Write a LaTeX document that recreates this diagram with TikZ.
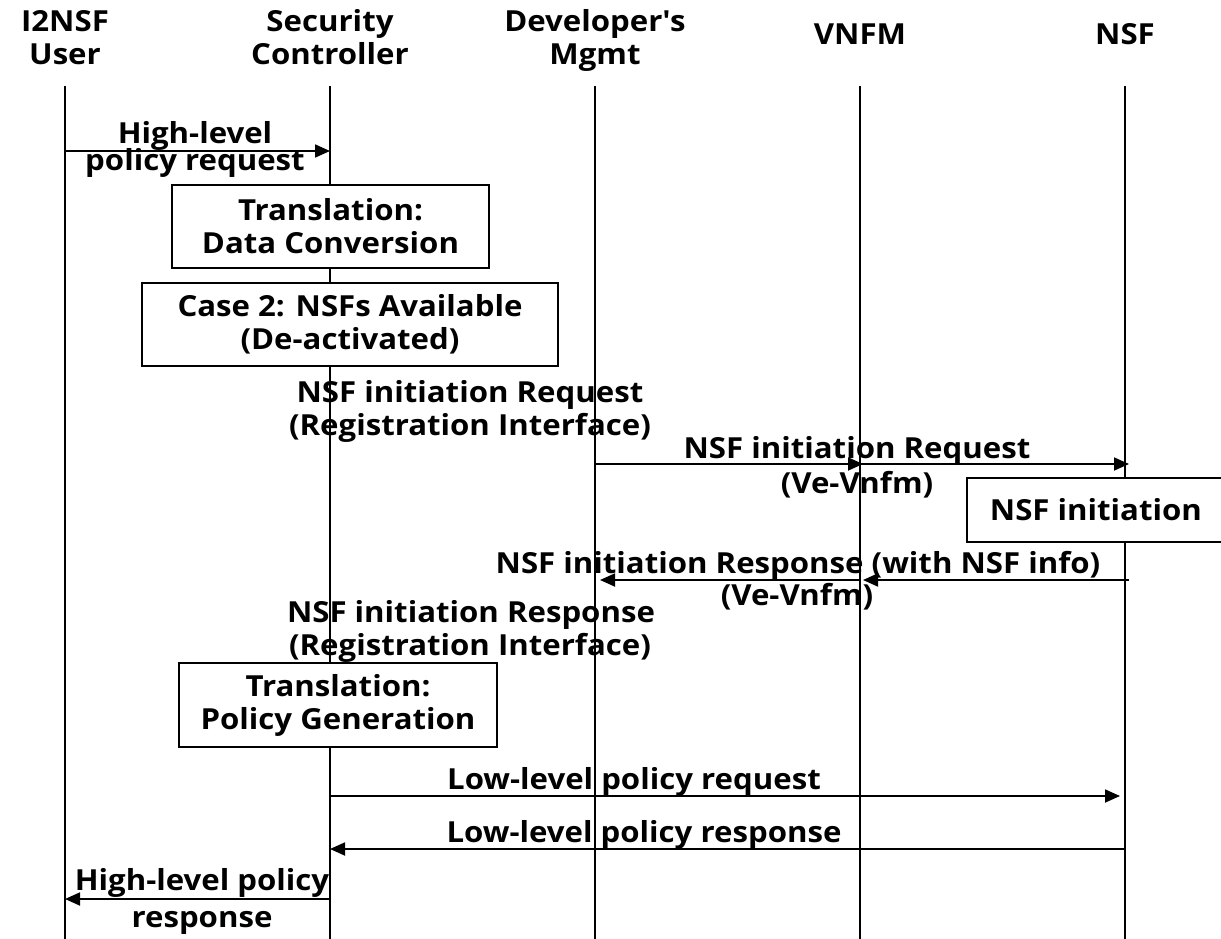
\documentclass[tikz,border=0pt]{standalone}
\usepackage{fontspec}
\setmainfont{Open Sans}[FakeStretch=1.075]
\usetikzlibrary{arrows.meta}
\begin{document}
\begin{tikzpicture}[x=1pt,y=-1pt,
  font=\bfseries\fontsize{29}{33}\selectfont,
  lifeline/.style={line width=1.4pt},
  msg/.style={line width=1.8pt,-{Triangle[length=15pt,width=13pt]}},
  stepbox/.style={draw,line width=1.8pt,fill=white,inner sep=0pt,align=center},
  lbl/.style={anchor=base,inner sep=0pt}]
\useasboundingbox (0,0) rectangle (1221,939);
\clip (0,0) rectangle (1221,939);

% participant headings
\node[lbl] (hU1) at (65,32) {I2NSF};
\node[lbl] (hU2) at (65,65) {User};
\node[lbl] (hC1) at (330,32) {Security};
\node[lbl] (hC2) at (330,65) {Controller};
\node[lbl] (hD1) at (595,32) {Developer\textquotesingle s};
\node[lbl] (hD2) at (595,65) {Mgmt};
\node[lbl] (hV) at (860,45) {VNFM};
\node[lbl] (hN) at (1125,45) {NSF};

% lifelines
\coordinate (U) at (65,86);
\coordinate (C) at (330,86);
\coordinate (D) at (595,86);
\coordinate (V) at (860,86);
\coordinate (N) at (1125,86);
\foreach \p in {U,C,D,V,N} \draw[lifeline] (\p) -- (\p |- 0,945);

% high-level policy request
\draw[msg] (U |- 0,151) -- (C |- 0,151);
\node[lbl] (m1a) at (195,143) {High-level};
\node[lbl] (m1b) at (195,171) {policy request};

% processing steps in the security controller
\node[stepbox,minimum width=317pt,minimum height=83pt] (tr1) at (330.5,226.5) {Translation:\\Data Conversion};
\node[stepbox,minimum width=416pt,minimum height=83pt] (case2) at (350,324.5) {Case 2: NSFs Available\\(De-activated)};

% registration interface request
\node[lbl] (m2a) at (470,402) {NSF initiation Request};
\node[lbl] (m2b) at (470,435) {(Registration Interface)};

% Ve-Vnfm request towards the NSF
\draw[msg,shorten >=-3pt] (D |- 0,464) -- (V |- 0,464);
\draw[msg,shorten >=-4pt] (V |- 0,464) -- (N |- 0,464);
\node[lbl] (m3a) at (857,458) {NSF initiation Request};
\node[lbl] (m3b) at (857,493) {(Ve-Vnfm)};

\node[stepbox,minimum width=258pt,minimum height=64pt,anchor=west] (init) at (966,510) {NSF initiation};

% response back through the VNFM
\draw[msg,shorten >=3pt] ([xshift=4pt]N |- 0,580) -- (V |- 0,580);
\draw[msg,shorten >=5pt] (V |- 0,580) -- (D |- 0,580);
\node[lbl] (m4a) at (798,573) {NSF initiation Response (with NSF info)};
\node[lbl] (m4b) at (797,605) {(Ve-Vnfm)};

% registration interface response
\node[lbl] (m5a) at (471,622) {NSF initiation Response};
\node[lbl] (m5b) at (470,655) {(Registration Interface)};

\node[stepbox,minimum width=318pt,minimum height=84pt] (tr2) at (338,705) {Translation:\\Policy Generation};

% low-level policy exchange
\draw[msg,shorten >=5pt] (C |- 0,796) -- (N |- 0,796);
\node[lbl] (m6) at (634,789) {Low-level policy request};
\draw[msg] (N |- 0,849) -- (C |- 0,849);
\node[lbl] (m7) at (644,842) {Low-level policy response};

% high-level policy response
\draw[msg] (C |- 0,899) -- (U |- 0,899);
\node[lbl] (m8a) at (202,890) {High-level policy};
\node[lbl] (m8b) at (202,927) {response};
\end{tikzpicture}
\end{document}
